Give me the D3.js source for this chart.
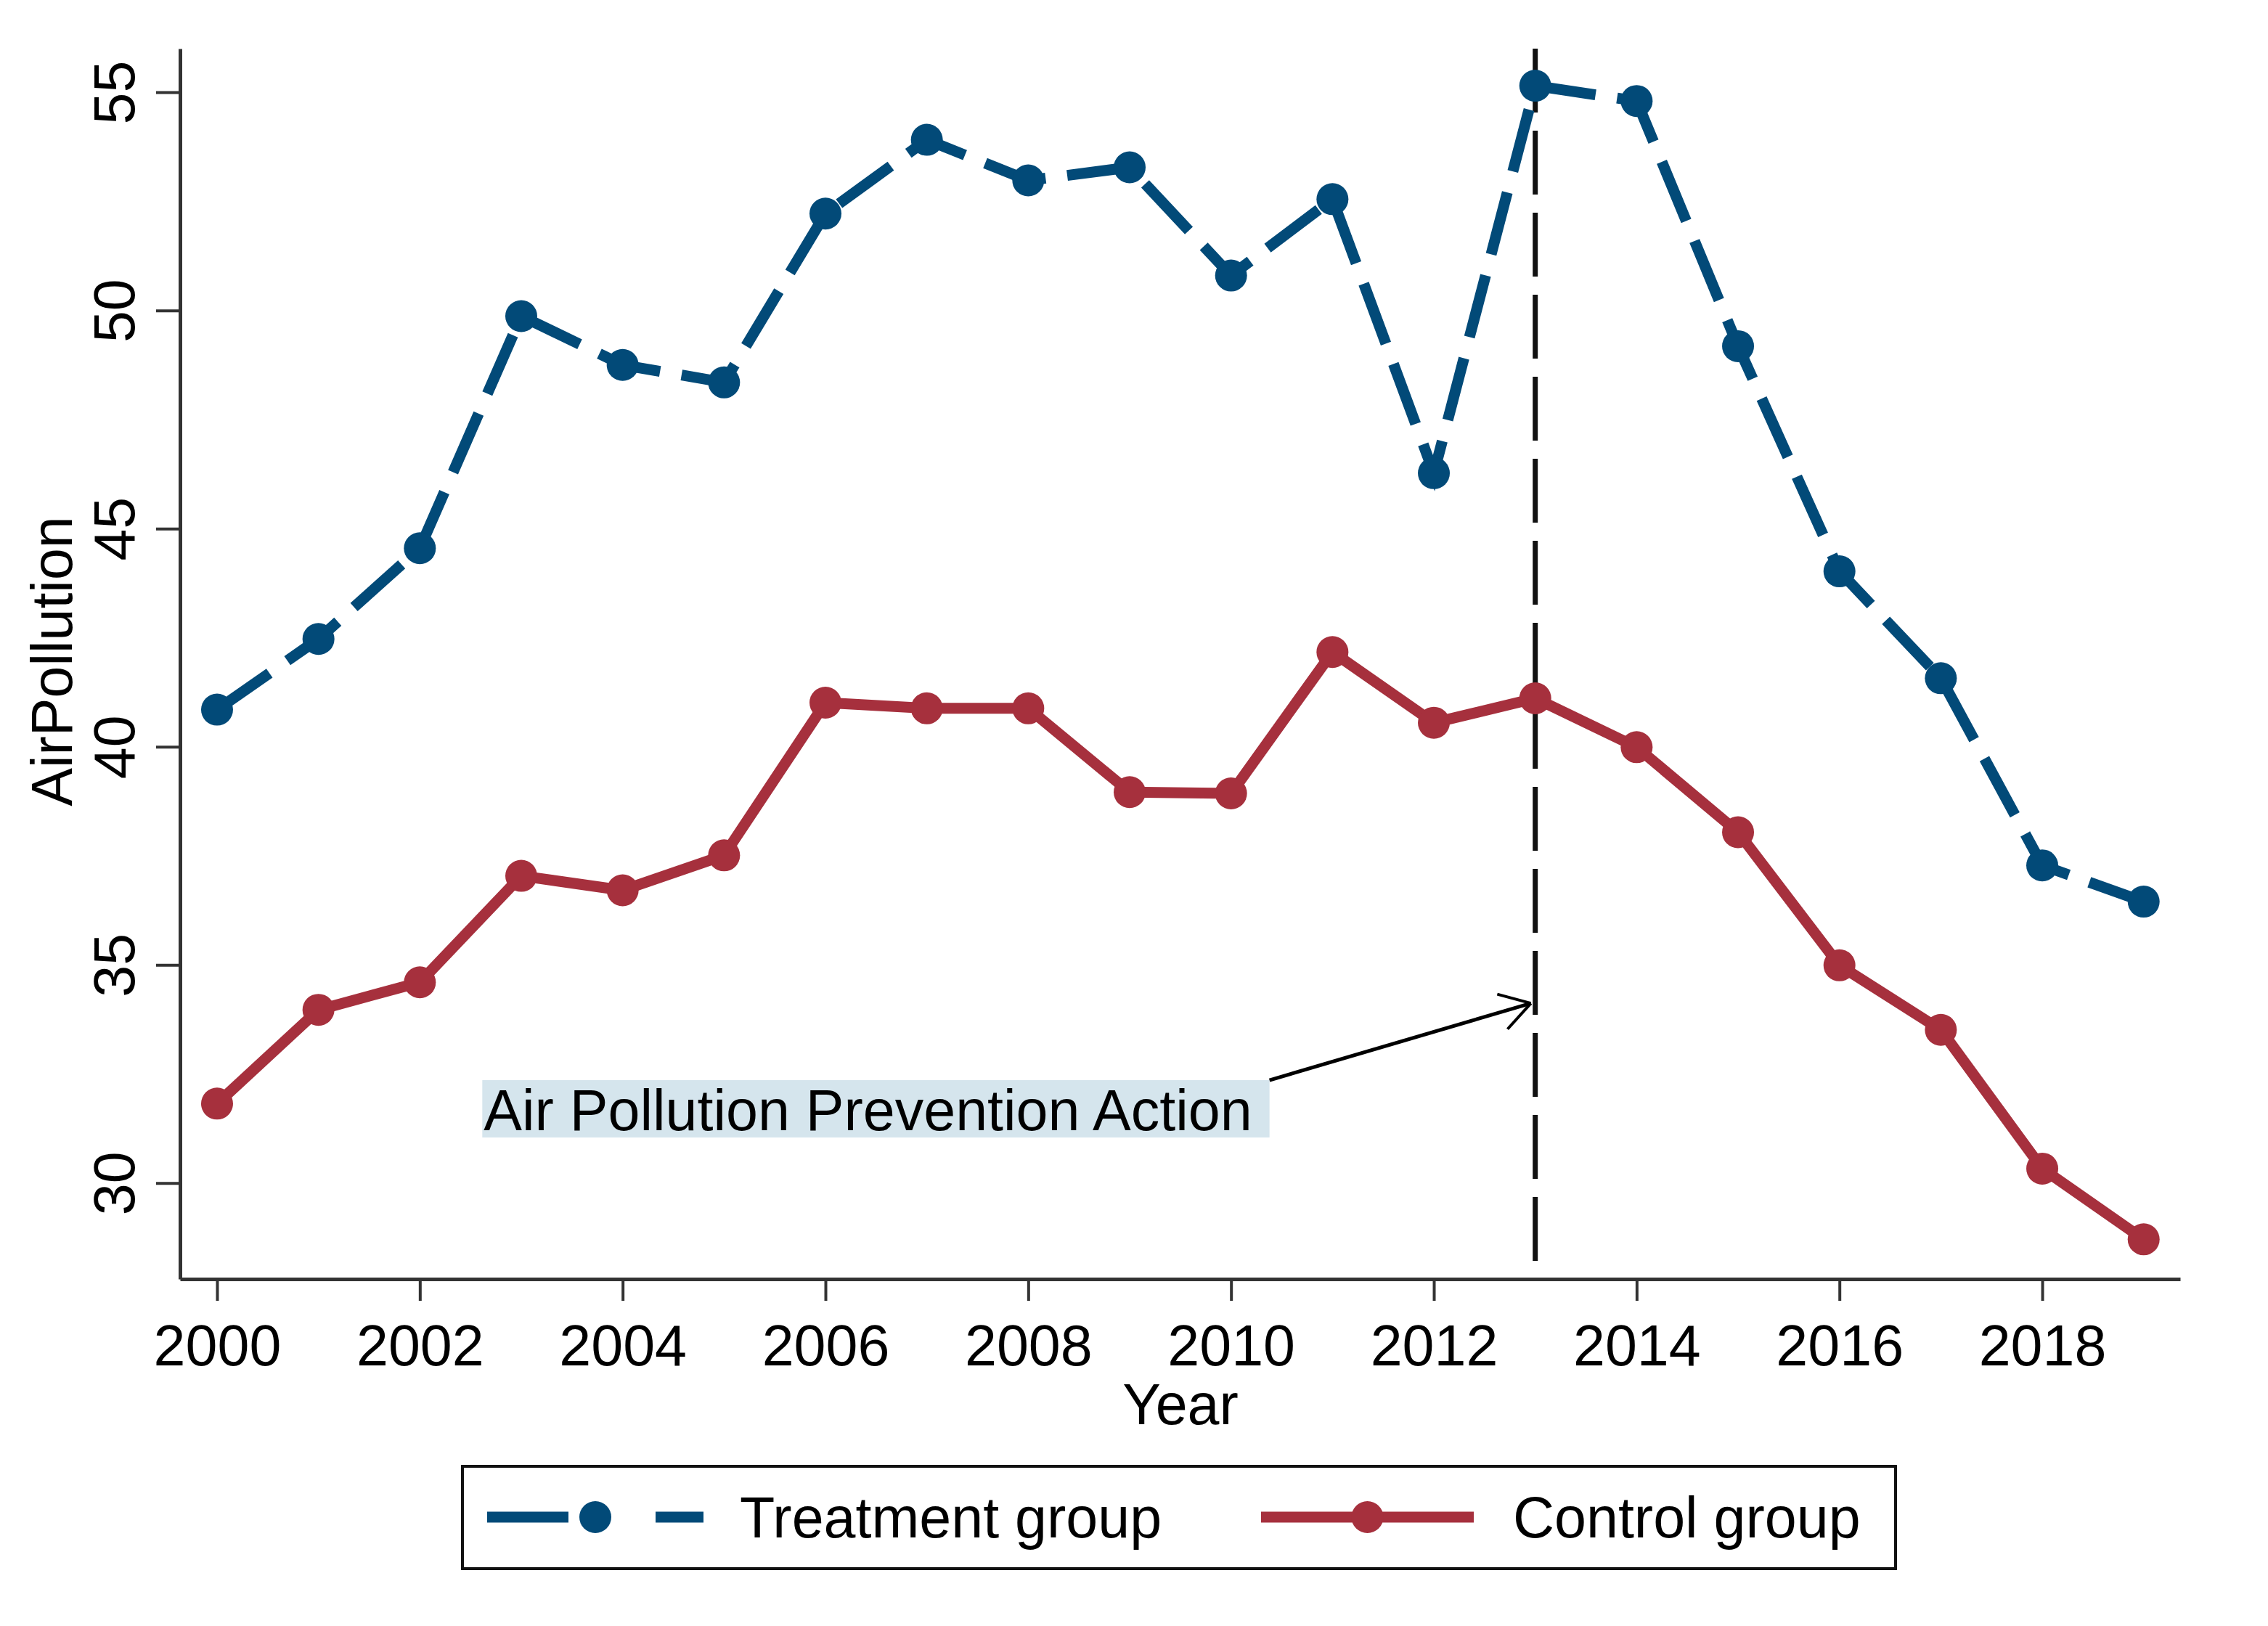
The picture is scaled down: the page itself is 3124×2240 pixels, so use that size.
<!DOCTYPE html>
<html>
<head>
<meta charset="utf-8">
<script src="https://cdn.jsdelivr.net/npm/d3@7"></script>
<style>
  body { margin: 0; background: #fff; }
  text { font-family: "Liberation Sans", Arial, sans-serif; fill: #000; }
</style>
</head>
<body>
<div id="chart-area"></div>
<script>
// data
const years = [2000, 2001, 2002, 2003, 2004, 2005, 2006, 2007, 2008, 2009,
               2010, 2011, 2012, 2013, 2014, 2015, 2016, 2017, 2018, 2019];
const treatment = [40.85, 42.47, 44.55, 49.87, 48.75, 48.35, 52.22, 53.91, 52.98, 53.28,
                   50.80, 52.55, 46.27, 55.15, 54.80, 49.18, 44.02, 41.57, 37.28, 36.45];
const control = [31.82, 33.97, 34.60, 37.04, 36.71, 37.51, 41.01, 40.88, 40.88, 38.96,
                 38.93, 42.17, 40.55, 41.11, 39.99, 38.04, 34.99, 33.51, 30.33, 28.71];
const xTicks = [2000, 2002, 2004, 2006, 2008, 2010, 2012, 2014, 2016, 2018];
const yTicks = [30, 35, 40, 45, 50, 55];
const seriesNames = ["Treatment group", "Control group"];
const policyYear = 2013;
const annoLabel = "Air Pollution Prevention Action";

const navy = "#024a78";
const maroon = "#a6303d";
const fontSize = 79;

const svg = d3.select("#chart-area")
    .append("svg")
    .attr("width", 3124)
    .attr("height", 2240);

const x = d3.scaleLinear()
    .domain([1999.635, 2019.36])
    .range([248, 3003]);

const y = d3.scaleLinear()
    .domain([27.8, 56.0])
    .range([1762, 67]);

// x axis
const xAxis = svg.append("g")
    .attr("transform", "translate(0," + y(27.8) + ")")
    .call(d3.axisBottom(x).tickValues(xTicks).tickFormat(d3.format("d")).tickSize(30).tickSizeOuter(0));
xAxis.select(".domain").attr("stroke", "#333").attr("stroke-width", 5);
xAxis.selectAll(".tick line").attr("stroke", "#333").attr("stroke-width", 4);
xAxis.selectAll(".tick text")
    .attr("y", 119).attr("dy", 0)
    .style("font-size", fontSize + "px")
    .attr("fill", "#000");

// y axis
const yAxis = svg.append("g")
    .attr("transform", "translate(" + x(1999.635) + ",0)")
    .call(d3.axisLeft(y).tickValues(yTicks).tickSize(33).tickSizeOuter(0));
yAxis.select(".domain").attr("stroke", "#333").attr("stroke-width", 5);
yAxis.selectAll(".tick line").attr("stroke", "#333").attr("stroke-width", 4);
yAxis.selectAll(".tick text")
    .attr("transform", "rotate(-90)")
    .attr("x", 0).attr("y", -63).attr("dy", 0)
    .attr("text-anchor", "middle")
    .style("font-size", fontSize + "px")
    .attr("fill", "#000");

// axis titles
svg.append("text")
    .attr("x", 1626).attr("y", 1962)
    .attr("text-anchor", "middle")
    .style("font-size", fontSize + "px")
    .text("Year");

svg.append("text")
    .attr("transform", "translate(99,911) rotate(-90)")
    .attr("text-anchor", "middle")
    .style("font-size", fontSize + "px")
    .text("AirPollution");

// policy line
svg.append("line")
    .attr("x1", x(policyYear)).attr("x2", x(policyYear))
    .attr("y1", y(56.0)).attr("y2", y(27.8))
    .attr("stroke", "#111")
    .attr("stroke-width", 7)
    .attr("stroke-dasharray", "88,25");

// annotation with arrow
const annoX = x(2002.63);
const annoY = y(31.21);
const annoBox = svg.append("rect").attr("fill", "#d5e5ed");
const annoText = svg.append("text")
    .attr("x", annoX).attr("y", annoY)
    .style("font-size", fontSize + "px")
    .text(annoLabel);
const tw = annoText.node().getComputedTextLength();
const boxX = annoX - 2, boxY = annoY - 69, boxW = tw + 26, boxH = 79;
annoBox.attr("x", boxX).attr("y", boxY).attr("width", boxW).attr("height", boxH);

const tipX = x(policyYear) - 6, tipY = y(34.12);
svg.append("line")
    .attr("x1", boxX + boxW).attr("y1", boxY)
    .attr("x2", tipX).attr("y2", tipY)
    .attr("stroke", "#000").attr("stroke-width", 5);
const ang = Math.atan2(tipY - boxY, tipX - (boxX + boxW));
[0.55, -0.55].forEach(function (a) {
    svg.append("line")
        .attr("x1", tipX).attr("y1", tipY)
        .attr("x2", tipX - 48 * Math.cos(ang + a))
        .attr("y2", tipY - 48 * Math.sin(ang + a))
        .attr("stroke", "#000").attr("stroke-width", 4);
});

// series
const line = d3.line()
    .x(function (d) { return x(d[0]); })
    .y(function (d) { return y(d[1]); });

const treatData = years.map(function (d, i) { return [d, treatment[i]]; });
const ctrlData = years.map(function (d, i) { return [d, control[i]]; });

svg.append("path")
    .datum(ctrlData)
    .attr("d", line)
    .attr("fill", "none")
    .attr("stroke", maroon)
    .attr("stroke-width", 15)
    .attr("stroke-linejoin", "round");

svg.selectAll(".ctrl-dot")
    .data(ctrlData)
    .enter().append("circle")
    .attr("class", "ctrl-dot")
    .attr("cx", function (d) { return x(d[0]); })
    .attr("cy", function (d) { return y(d[1]); })
    .attr("r", 22)
    .attr("fill", maroon);

svg.append("path")
    .datum(treatData)
    .attr("d", line)
    .attr("fill", "none")
    .attr("stroke", navy)
    .attr("stroke-width", 15)
    .attr("stroke-dasharray", "88,30");

svg.selectAll(".treat-dot")
    .data(treatData)
    .enter().append("circle")
    .attr("class", "treat-dot")
    .attr("cx", function (d) { return x(d[0]); })
    .attr("cy", function (d) { return y(d[1]); })
    .attr("r", 22)
    .attr("fill", navy);

// legend
const legend = svg.append("g");
legend.append("rect")
    .attr("x", 637).attr("y", 2020)
    .attr("width", 1974).attr("height", 141)
    .attr("fill", "#fff")
    .attr("stroke", "#111")
    .attr("stroke-width", 4);

const legendItems = [
    { name: seriesNames[0], color: navy, x1: 671, x2: 969, dash: "112,120,70", text: 1019 },
    { name: seriesNames[1], color: maroon, x1: 1737, x2: 2030, dash: null, text: 2084 }
];
legendItems.forEach(function (d) {
    legend.append("line")
        .attr("x1", d.x1).attr("x2", d.x2)
        .attr("y1", 2090).attr("y2", 2090)
        .attr("stroke", d.color)
        .attr("stroke-width", 15)
        .attr("stroke-dasharray", d.dash);
    legend.append("circle")
        .attr("cx", (d.x1 + d.x2) / 2).attr("cy", 2090)
        .attr("r", 22)
        .attr("fill", d.color);
    legend.append("text")
        .attr("x", d.text).attr("y", 2118)
        .style("font-size", fontSize + "px")
        .text(d.name);
});
</script>
</body>
</html>
